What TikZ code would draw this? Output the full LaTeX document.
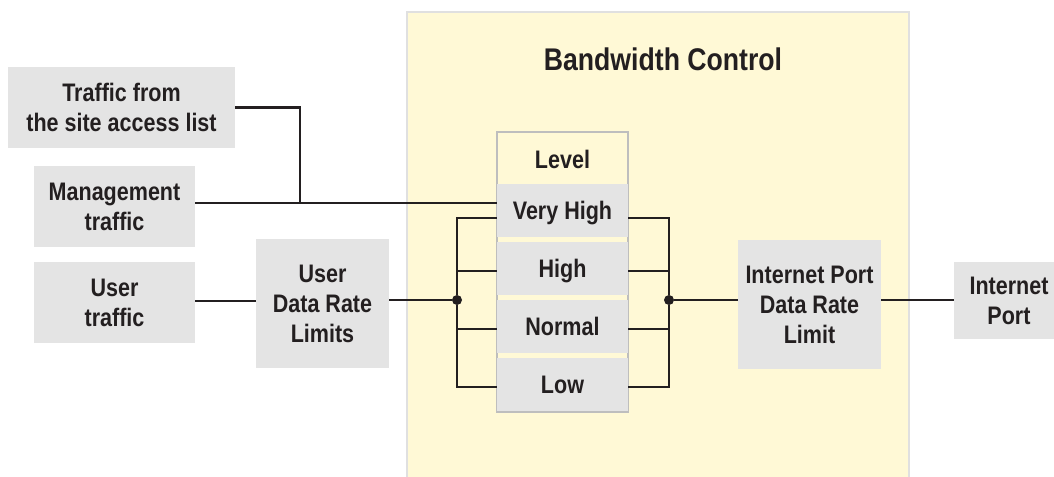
\documentclass[tikz,border=0pt]{standalone}
\usepackage{fontspec}
\setmainfont{Liberation Sans}[FakeStretch=0.85]
\usetikzlibrary{calc}
\definecolor{bgy}{HTML}{FFF9D6}
\definecolor{boxg}{HTML}{E4E4E4}
\definecolor{edgeg}{HTML}{E0E0E0}
\definecolor{ink}{HTML}{231F20}
\newcommand\labfont{\fontsize{19}{22.5}\selectfont\bfseries}
\newcommand\ttlfont{\fontsize{23.5}{28}\selectfont\bfseries}
\begin{document}
\begin{tikzpicture}[x=0.75pt,y=-0.75pt,
  sz/.style 2 args={minimum width=#1*0.75pt, minimum height=#2*0.75pt},
  box/.style={fill=boxg, inner sep=0pt, align=center, text=ink, font=\labfont},
  cell/.style={box, text height=13.6pt, text depth=0pt},
  bigbox/.style={fill=bgy, draw=edgeg, line width=2pt, inner sep=0pt},
  lvlbox/.style={fill=bgy, draw=edgeg!85!black, line width=0.8pt, inner sep=0pt},
  plain/.style={text=ink, font=\labfont, inner sep=0pt, text height=13.6pt, text depth=0pt},
  wire/.style={draw=ink, line width=1.9pt},
  dot/.style={circle, fill=ink, inner sep=0pt, minimum size=10*0.75pt}]
\useasboundingbox (0,0) rectangle (1054,476);
\clip (0,0) rectangle (1054,476);
\fill[white] (0,0) rectangle (1054,476);

% container
\node[bigbox, sz={502}{480}] (bw) at (658,252) {};
\node[text=ink, font=\ttlfont, inner sep=0pt, text height=16.8pt, text depth=0pt] (tt) at (663,59) {Bandwidth Control};

% level stack
\node[lvlbox, sz={131}{280}] (lvl) at (562.5,272) {};
\node[plain] (lvlt) at (562.5,159) {Level};
\node[cell, sz={131}{53}] (vh) at (562.5,210.5) {Very High};
\node[cell, sz={131}{53}] (hi) at (562.5,268.5) {High};
\node[cell, sz={131}{53}] (no) at (562.5,326.5) {Normal};
\node[cell, sz={131}{53}] (lo) at (562.5,384.5) {Low};

% left boxes
\node[box, sz={227}{81}] (tr) at (121.5,107.5) {Traffic from\\the site access list};
\node[box, sz={161}{81}] (mg) at (114.5,206.5) {Management\\traffic};
\node[box, sz={161}{81}] (ut) at (114.5,302.5) {User\\traffic};
\node[box, sz={133}{129}] (ud) at (322.5,303.5) {User\\Data Rate\\Limits};

% right boxes
\node[box, sz={143}{129}] (ip) at (809.5,304.5) {Internet Port\\Data Rate\\Limit};
\node[box, sz={110}{77}] (port) at (1009,300.5) {Internet\\Port};

% junctions
\coordinate (mj) at (300,203);
\node[dot] (dl) at (457,300) {};
\node[dot] (dr) at (669,300) {};

% wires
\draw[wire] (tr.east) -| (mj);
\draw[wire] (mg.east |- mj) -- (mj) -- (mj -| vh.west);
\draw[wire] (ut.east |- 0,301) -- (ud.west |- 0,301);
\draw[wire] (ud.east |- dl) -- (dl);

\draw[wire] ($(vh.west)+(0,7.5)$) -| (dl);
\draw[wire] ($(hi.west)+(0,2.5)$) -| (dl);
\draw[wire] ($(no.west)+(0,2.5)$) -| (dl);
\draw[wire] ($(lo.west)+(0,2.5)$) -| (dl);

\draw[wire] ($(vh.east)+(0,7.5)$) -| (dr);
\draw[wire] ($(hi.east)+(0,2.5)$) -| (dr);
\draw[wire] ($(no.east)+(0,2.5)$) -| (dr);
\draw[wire] ($(lo.east)+(0,2.5)$) -| (dr);

\draw[wire] (dr) -- (dr -| ip.west);
\draw[wire] (ip.east |- dr) -- (dr -| port.west);
\end{tikzpicture}
\end{document}
